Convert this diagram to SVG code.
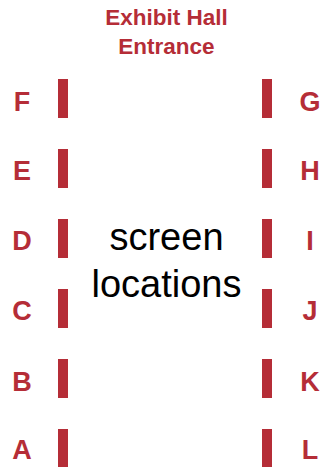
<svg xmlns="http://www.w3.org/2000/svg" width="324" height="467" viewBox="0 0 324 467">
<style>
.bar{fill:#b52d37}
.lbl{font-family:"Liberation Sans",Arial,sans-serif;font-weight:bold;font-size:27px;fill:#b52d37;text-anchor:middle}
.ttl{font-family:"Liberation Sans",Arial,sans-serif;font-weight:bold;font-size:22.5px;fill:#b52d37;text-anchor:middle}
.mid{font-family:"Liberation Sans",Arial,sans-serif;font-size:38px;fill:#000;text-anchor:middle}
</style>
<rect width="324" height="467" fill="#fff"/>
<g id="title"><text class="ttl" x="166.5" y="25">Exhibit Hall</text><text class="ttl" x="166.5" y="54">Entrance</text></g>
<g id="center"><text class="mid" x="166.5" y="250">screen</text><text class="mid" x="166.5" y="297">locations</text></g>
<g id="F"><rect class="bar" x="58" y="79" width="10" height="39"/><text class="lbl" x="22" y="111">F</text></g>
<g id="E"><rect class="bar" x="58" y="149" width="10" height="39"/><text class="lbl" x="22" y="180">E</text></g>
<g id="D"><rect class="bar" x="58" y="219" width="10" height="39"/><text class="lbl" x="22" y="250">D</text></g>
<g id="C"><rect class="bar" x="58" y="289" width="10" height="39"/><text class="lbl" x="22" y="320">C</text></g>
<g id="B"><rect class="bar" x="58" y="359" width="10" height="39"/><text class="lbl" x="22" y="391">B</text></g>
<g id="A"><rect class="bar" x="58" y="429" width="10" height="38"/><text class="lbl" x="22" y="459">A</text></g>
<g id="G"><rect class="bar" x="262" y="79" width="10" height="39"/><text class="lbl" x="310" y="111">G</text></g>
<g id="H"><rect class="bar" x="262" y="149" width="10" height="39"/><text class="lbl" x="310" y="180">H</text></g>
<g id="I"><rect class="bar" x="262" y="219" width="10" height="39"/><text class="lbl" x="310" y="250">I</text></g>
<g id="J"><rect class="bar" x="262" y="289" width="10" height="39"/><text class="lbl" x="310" y="320">J</text></g>
<g id="K"><rect class="bar" x="262" y="359" width="10" height="39"/><text class="lbl" x="310" y="391">K</text></g>
<g id="L"><rect class="bar" x="262" y="429" width="10" height="38"/><text class="lbl" x="310" y="459">L</text></g>
</svg>
